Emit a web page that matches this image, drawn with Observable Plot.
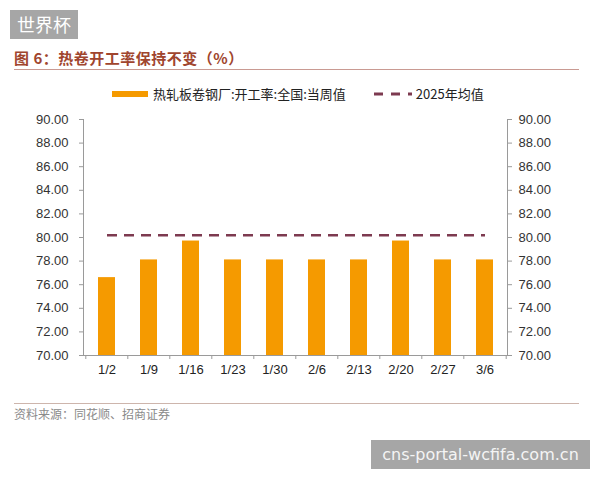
<!DOCTYPE html>
<html>
<head>
<meta charset="utf-8">
<script src="https://cdn.jsdelivr.net/npm/d3@7"></script>
<script src="https://cdn.jsdelivr.net/npm/@observablehq/plot@0.6"></script>
<style>
  html, body { margin: 0; padding: 0; background: #fff; }
  #wrap { position: relative; width: 600px; height: 480px; overflow: hidden; background: #fff;
          font-family: "Liberation Sans", Arial, sans-serif; }
  .abs { position: absolute; }
  #wm1 { left: 10px; top: 10px; width: 68px; height: 29px; background: #a6a6a6; color: #fff;
         font: 18px "Noto Sans CJK SC", sans-serif; line-height: 29px; text-align: center; }
  #wm2 { left: 371px; top: 440px; width: 219px; height: 29px; background: #a6a6a6; color: #f4f4f4;
         font: 16px "DejaVu Sans", sans-serif; line-height: 29px; text-align: center; }
  #title { left: 14px; top: 47px; font: bold 15px "Noto Sans CJK SC", sans-serif; color: #a0452e; letter-spacing: 0.5px; }
  #tline { left: 14px; top: 69px; width: 565px; height: 0; border-top: 1.5px solid #c99a92; }
  #bline { left: 14px; top: 403px; width: 565px; height: 0; border-top: 1.5px solid #cdb5ac; }
  #source { left: 14px; top: 405px; font: 12px "Noto Sans CJK SC", sans-serif; color: #8a8a8a; }
  #legend { left: 112px; top: 84px; font: 13px "Noto Sans CJK SC", sans-serif; color: #222;
            display: flex; align-items: center; white-space: nowrap; }
  .sw-bar { width: 36px; height: 6px; background: #f59a00; margin-right: 5px; }
  #chart { left: 0; top: 100px; }
</style>
</head>
<body>
<div id="wrap">
  <div id="wm1" class="abs">世界杯</div>
  <div id="title" class="abs">图 6：热卷开工率保持不变（%）</div>
  <div id="tline" class="abs"></div>
  <div id="legend" class="abs">
    <div class="sw-bar"></div><span id="lab1">热轧板卷钢厂:开工率:全国:当周值</span>
    <svg width="38" height="6" style="margin-left:28px;margin-right:4px"><line x1="0" y1="3" x2="38" y2="3" stroke="#7d3a50" stroke-width="3" stroke-dasharray="9,8"/></svg><span>2025年均值</span>
  </div>
  <div id="chart" class="abs"></div>
  <div id="bline" class="abs"></div>
  <div id="source" class="abs">资料来源：同花顺、招商证券</div>
  <div id="wm2" class="abs">cns-portal-wcfifa.com.cn</div>
</div>
<script>
const categories = ["1/2","1/9","1/16","1/23","1/30","2/6","2/13","2/20","2/27","3/6"];
const values = [76.6, 78.1, 79.7, 78.1, 78.1, 78.1, 78.1, 79.7, 78.1, 78.1];
const avg2025 = 80.2;
const yTicks = [70, 72, 74, 76, 78, 80, 82, 84, 86, 88, 90];

const data = categories.map((c, i) => ({week: c, value: values[i], avg: avg2025}));

const W = 600, H = 280, mL = 83, mR = 93;
const step = (W - mL - mR) / categories.length;
const axisColor = "#9a9a9a";
const fmt = d3.format(".2f");

const chart = Plot.plot({
  width: W,
  height: H,
  marginLeft: mL,
  marginRight: mR,
  marginTop: 19,
  marginBottom: 25,
  style: {fontFamily: "'Liberation Sans', Arial, sans-serif", fontSize: "13px", color: "#333", background: "transparent"},
  x: {domain: categories, paddingInner: 0.6, paddingOuter: 0.3, label: null},
  y: {domain: [70, 90], label: null},
  marks: [
    Plot.barY(data, {x: "week", y1: 70, y2: "value", fill: "#f59a00"}),
    Plot.lineY(data, {x: "week", y: "avg", stroke: "#7d3a50", strokeWidth: 2.5, strokeDasharray: "10,7", strokeLinecap: "butt"}),
    Plot.axisY({anchor: "left", ticks: yTicks, tickFormat: fmt, tickSize: 4, tickPadding: 11, stroke: axisColor, fill: "#333", label: null}),
    Plot.axisY({anchor: "right", ticks: yTicks, tickFormat: fmt, tickSize: 4, tickPadding: 7, stroke: axisColor, fill: "#333", label: null}),
    Plot.axisX({ticks: categories, tickSize: 0, tickPadding: 9, fill: "#222", label: null}),
    Plot.axisX({ticks: categories, tickSize: 4, text: null, dx: -step / 2, stroke: axisColor, label: null}),
    Plot.axisX({ticks: [categories[categories.length - 1]], tickSize: 4, text: null, dx: step / 2, stroke: axisColor, label: null}),
    Plot.ruleY([70], {stroke: axisColor}),
    Plot.frame({anchor: "left", stroke: axisColor}),
    Plot.frame({anchor: "right", stroke: axisColor})
  ]
});
document.getElementById("chart").appendChild(chart);
</script>
</body>
</html>
